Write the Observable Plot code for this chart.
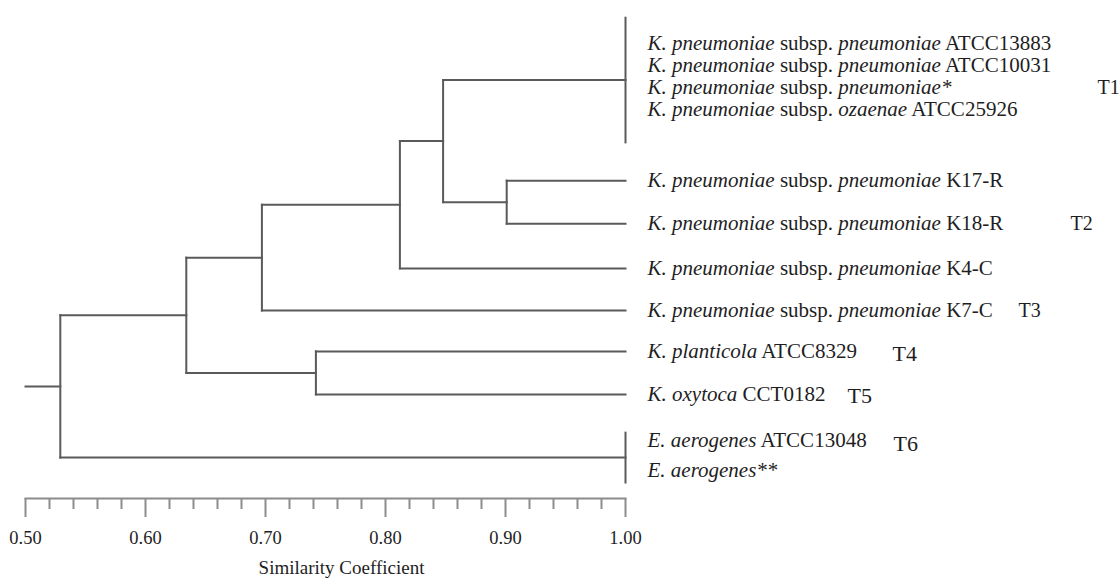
<!DOCTYPE html>
<html><head><meta charset="utf-8">
<script src="https://cdn.jsdelivr.net/npm/d3@7"></script>
<script src="https://cdn.jsdelivr.net/npm/@observablehq/plot@0.6"></script>
<style>body{margin:0;background:#fff}</style>
</head><body><div id="chart"></div>
<script>
// ---- data ----
const leafNames = [
  "K. pneumoniae subsp. pneumoniae ATCC13883",
  "K. pneumoniae subsp. pneumoniae ATCC10031",
  "K. pneumoniae subsp. pneumoniae*",
  "K. pneumoniae subsp. ozaenae ATCC25926",
  "K. pneumoniae subsp. pneumoniae K17-R",
  "K. pneumoniae subsp. pneumoniae K18-R",
  "K. pneumoniae subsp. pneumoniae K4-C",
  "K. pneumoniae subsp. pneumoniae K7-C",
  "K. planticola ATCC8329",
  "K. oxytoca CCT0182",
  "E. aerogenes ATCC13048",
  "E. aerogenes**"
];
// leaf order positions (row units, top to bottom)
const leafRows = [0, 0.51, 1.02, 1.53, 3.19, 4.19, 5.23, 6.21, 7.16, 8.16, 9.23, 9.93];
const leafSim = 1.00;
// internal nodes (children: leaf index or node name)
const nodeNames = ["T1 core", "E core", "n1", "n2", "n3", "n4", "n5", "n6", "root"];
const nodeSims = [1.00, 1.00, 0.901, 0.848, 0.812, 0.697, 0.742, 0.634, 0.529];
const nodeChildren = [[0,1,2,3], [10,11], [4,5], ["T1 core","n1"], ["n2",6], ["n3",7], [8,9], ["n4","n5"], ["n6","E core"]];
// vertical extent of the identical-profile clusters (row units)
const flatSpans = {"T1 core": [-0.6, 2.30], "E core": [9.05, 10.21]};
const axisStart = 0.50;
const majorTicks = [0.50, 0.60, 0.70, 0.80, 0.90, 1.00];
const minorTicks = [0.52,0.54,0.56,0.58, 0.62,0.64,0.66,0.68, 0.72,0.74,0.76,0.78, 0.82,0.84,0.86,0.88, 0.92,0.94,0.96,0.98];
const groupLabels = ["T1", "T2", "T3", "T4", "T5", "T6"];
const groupLeaf = [2, 5, 7, 8, 9, 10];
const axisTitle = "Similarity Coefficient";

// ---- layout/style ----
const groupDx = {T1: 472, T2: 445, T3: 393, T4: 267, T5: 222, T6: 268};
const groupDy = {T1: 0, T2: 0, T3: 0, T4: 3, T5: 2, T6: 4};
const groupSize = {T1: 20, T2: 20, T3: 20, T4: 22, T5: 22, T6: 22};
const treeColor = "#5a5a5a", axisColor = "#8c8c8c", textColor = "#1e1e1e";
const serif = "'Liberation Serif', 'Times New Roman', Times, serif";

// ---- build dendrogram segments ----
const pos = new Map();
leafNames.forEach((n, i) => pos.set(i, {sim: leafSim, y: leafRows[i]}));
const segs = [];
nodeNames.forEach((name, k) => {
  const s = nodeSims[k];
  const kids = nodeChildren[k].map(c => pos.get(c));
  let y, y1, y2;
  if (flatSpans[name]) { [y1, y2] = flatSpans[name]; y = (y1 + y2) / 2; }
  else { const ys = kids.map(d => d.y); y1 = d3.min(ys); y2 = d3.max(ys); y = d3.mean(ys); }
  segs.push({x1: s, x2: s, y1, y2});
  kids.forEach(c => { if (c.sim !== s) segs.push({x1: s, x2: c.sim, y1: c.y, y2: c.y}); });
  pos.set(name, {sim: s, y});
});
const root = pos.get("root");
segs.push({x1: axisStart, x2: root.sim, y1: root.y, y2: root.y});

const leaves = leafNames.map((name, i) => ({name, sim: leafSim, row: leafRows[i]}));
const groups = groupLabels.map((g, i) => ({g, sim: leafSim, row: leafRows[groupLeaf[i]]}));

const chart = Plot.plot({
  width: 1120, height: 584,
  marginLeft: 25, marginRight: 495, marginTop: 0, marginBottom: 86,
  x: {domain: [axisStart, 1.0]},
  y: {domain: [0, 10], range: [43, 473], axis: null},
  style: {fontFamily: serif, background: "#fff", color: textColor},
  marks: [
    Plot.frame({anchor: "bottom", stroke: axisColor, strokeWidth: 2}),
    Plot.axisX({ticks: minorTicks, tickSize: 11, fill: "none", stroke: axisColor, strokeWidth: 2, label: null}),
    Plot.axisX({ticks: majorTicks, tickSize: 19, tickPadding: 13, tickFormat: d3.format(".2f"),
      stroke: axisColor, strokeWidth: 2, fill: textColor, fontSize: 18.5, label: null}),
    Plot.text([axisTitle], {frameAnchor: "bottom", dx: 16, dy: 75, fontSize: 19, fill: textColor}),
    Plot.link(segs, {x1: "x1", y1: "y1", x2: "x2", y2: "y2", stroke: treeColor, strokeWidth: 2, strokeLinecap: "square"}),
    Plot.text(leaves, {x: "sim", y: "row", text: "name", dx: 22, textAnchor: "start", fontSize: 21, fill: textColor}),
    ...groups.map(d => Plot.text([d], {x: "sim", y: "row", text: "g", dx: groupDx[d.g], dy: groupDy[d.g],
      textAnchor: "start", fontSize: groupSize[d.g], fill: textColor}))
  ]
});

// italicise taxon names inside leaf labels
const nameSet = new Set(leafNames);
chart.querySelectorAll("text").forEach(t => {
  const s = t.textContent;
  if (!nameSet.has(s)) return;
  t.textContent = "";
  const tokens = s.split(" ");
  tokens.forEach((tok, i) => {
    const span = document.createElementNS("http://www.w3.org/2000/svg", "tspan");
    const roman = tok === "subsp." || /\d/.test(tok);
    if (!roman) span.setAttribute("font-style", "italic");
    span.textContent = (i ? " " : "") + tok;
    t.appendChild(span);
  });
});
document.getElementById("chart").appendChild(chart);
</script>
</body></html>
